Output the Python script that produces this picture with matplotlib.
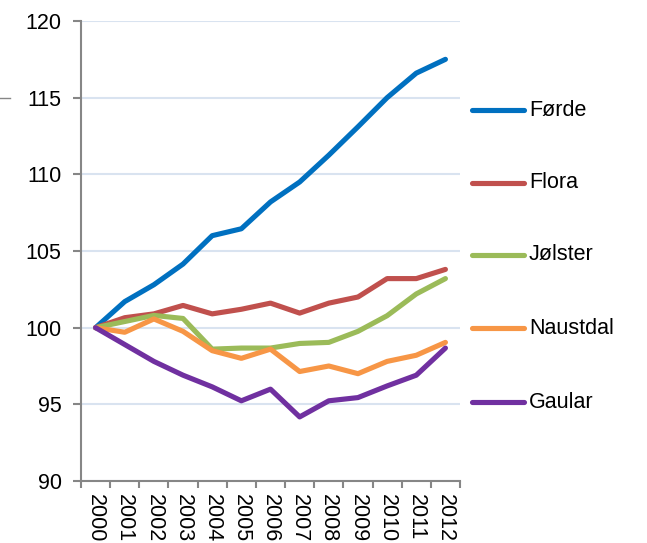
import matplotlib
matplotlib.use('Agg')
import matplotlib.pyplot as plt
from matplotlib.lines import Line2D

plt.rcParams['font.family'] = ['Liberation Sans', 'DejaVu Sans']

YEARS = [str(y) for y in range(2000, 2013)]
NAMES = ['Førde', 'Flora', 'Jølster', 'Naustdal', 'Gaular']
COLORS = ['#0070C0', '#C0504D', '#9BBB59', '#F79646', '#7030A0']

FORDE = [100, 101.7, 102.8, 104.15, 106.0, 106.45, 108.2, 109.5, 111.25, 113.1, 115.0, 116.6, 117.5]
FLORA = [100, 100.65, 100.9, 101.45, 100.9, 101.2, 101.6, 100.95, 101.6, 102.0, 103.2, 103.2, 103.8]
JOLSTER = [100, 100.4, 100.8, 100.6, 98.6, 98.67, 98.67, 98.97, 99.04, 99.76, 100.78, 102.2, 103.2]
NAUSTDAL = [100, 99.7, 100.57, 99.76, 98.5, 98.0, 98.6, 97.14, 97.5, 97.0, 97.8, 98.2, 99.04]
GAULAR = [100, 98.9, 97.8, 96.9, 96.14, 95.23, 95.99, 94.18, 95.23, 95.44, 96.2, 96.9, 98.67]

SERIES = [FORDE, FLORA, JOLSTER, NAUSTDAL, GAULAR]

W, H = 647, 543
FS = 15.5
fig = plt.figure(figsize=(W / 100, H / 100), dpi=100)
ax = fig.add_axes([81 / W, 1 - 481 / H, (460 - 81) / W, (481 - 21) / H])

x = list(range(len(YEARS)))
for vals, col in zip(SERIES, COLORS):
    ax.plot(x, vals, color=col, lw=3.7, solid_capstyle='round', solid_joinstyle='round', zorder=3)

ax.set_xlim(-0.5, len(YEARS) - 0.5)
ax.set_ylim(90, 120)
ax.set_yticks(range(90, 121, 5))
ax.yaxis.grid(True, color='#D9E3F0', lw=1.5)
ax.set_axisbelow(True)

ax.set_xticks(x)
ax.set_xticklabels(YEARS, rotation=270, fontsize=FS)
ax.set_xticks([i - 0.5 for i in range(len(YEARS) + 1)], minor=True)
ax.tick_params(axis='x', which='major', length=0, pad=9)
ax.tick_params(axis='x', which='minor', length=5, width=1.5, color='#868686')
ax.tick_params(axis='y', length=6, width=1.5, color='#868686', labelsize=FS, pad=8)

for side in ['top', 'right']:
    ax.spines[side].set_visible(False)
for side in ['left', 'bottom']:
    ax.spines[side].set_color('#868686')
    ax.spines[side].set_linewidth(1.5)

# legend drawn beside the plot
leg_y = [110, 183, 255, 328, 402]
for name, col, py in zip(NAMES, COLORS, leg_y):
    fy = 1 - py / H
    fig.add_artist(Line2D([472 / W, 524 / W], [fy, fy], color=col, lw=3.7,
                          solid_capstyle='round', transform=fig.transFigure))
    fig.text(529 / W, fy, name, fontsize=FS, va='center', ha='left')

# small stray mark at the left edge
fig.add_artist(Line2D([0, 10 / W], [1 - 98 / H, 1 - 98 / H], color='#868686', lw=1,
                      transform=fig.transFigure))

fig.savefig('out.png', dpi=100)
